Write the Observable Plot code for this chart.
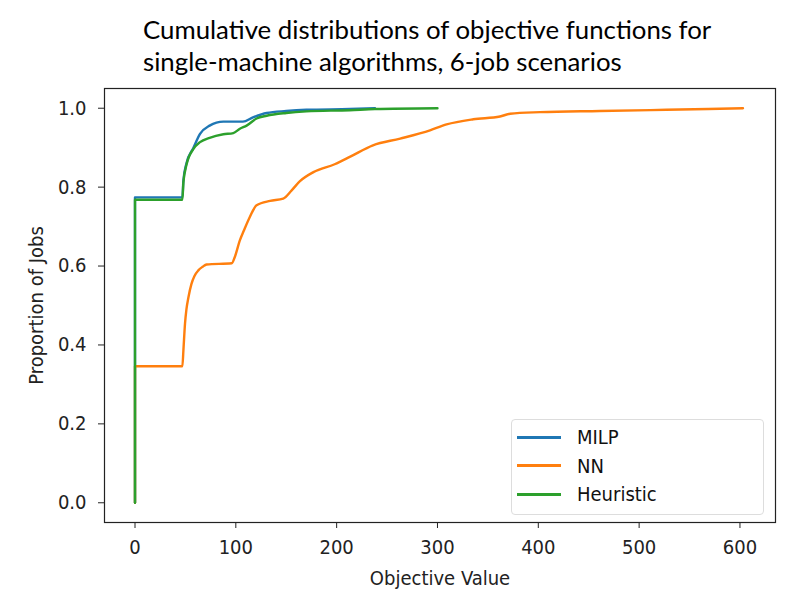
<!DOCTYPE html>
<html>
<head>
<meta charset="utf-8">
<script src="https://cdn.jsdelivr.net/npm/d3@7"></script>
<script src="https://cdn.jsdelivr.net/npm/@observablehq/plot@0.6"></script>
<style>
  html, body { margin: 0; padding: 0; background: #fff; }
  #wrap { position: relative; width: 788px; height: 599px; overflow: hidden; }
  #title { position: absolute; left: 143px; top: 13px; font-family: Lato, "Open Sans", sans-serif; font-size: 25.8px; line-height: 32px; color: #000; white-space: nowrap; }
  #legend { position: absolute; left: 511px; top: 419px; width: 253px; height: 96px; border: 1px solid #ddd; border-radius: 4px; background: #fff; font-family: "DejaVu Sans Condensed", "DejaVu Sans", sans-serif; font-stretch: condensed; font-size: 20px; color: #111; box-sizing: border-box; }
  .row { position: absolute; left: 5px; height: 22px; display: flex; align-items: center; }
  .sw { width: 44px; height: 0; border-top: 3px solid; margin-right: 16px; }
  svg { position: absolute; left: 0; top: 0; }
</style>
</head>
<body>
<div id="wrap">
  <div id="title">Cumulative distributions of objective functions for<br>single-machine algorithms, 6-job scenarios</div>
</div>
<script>
const seriesNames = ["MILP", "NN", "Heuristic"];
const seriesColors = ["#1f77b4", "#ff7f0e", "#2ca02c"];

const milpX = [0, 0, 47, 48, 51, 58, 64.5, 74, 87.6, 107, 117, 130.6, 150, 170, 213, 238];
const milpY = [0, 0.774, 0.774, 0.817, 0.86, 0.90, 0.935, 0.956, 0.966, 0.966, 0.977, 0.988, 0.993, 0.996, 0.998, 1.0];

const nnX = [0, 0, 47, 48, 49.6, 51, 53, 56, 59, 62.8, 67, 71, 96, 99, 104, 108, 114, 120.6, 134, 147, 155.4, 163.6, 177, 198, 214, 236, 263, 292.6, 309, 335.5, 362, 372, 401.7, 461, 527, 603];
const nnY = [0, 0.346, 0.346, 0.386, 0.454, 0.49, 0.521, 0.555, 0.575, 0.589, 0.598, 0.604, 0.607, 0.623, 0.665, 0.69, 0.725, 0.754, 0.765, 0.771, 0.792, 0.815, 0.838, 0.858, 0.878, 0.906, 0.923, 0.944, 0.959, 0.972, 0.979, 0.986, 0.990, 0.993, 0.996, 1.0];

const heurX = [0, 0, 47, 48, 51, 58, 64.5, 74, 87.6, 97.5, 104, 110.7, 120.6, 130.6, 150, 170, 213, 238, 300];
const heurY = [0, 0.768, 0.768, 0.812, 0.856, 0.897, 0.914, 0.925, 0.934, 0.937, 0.948, 0.956, 0.974, 0.981, 0.988, 0.992, 0.995, 0.998, 1.0];

const xTicks = [0, 100, 200, 300, 400, 500, 600];
const yTicks = [0, 0.2, 0.4, 0.6, 0.8, 1.0];

const allX = [milpX, nnX, heurX];
const allY = [milpY, nnY, heurY];
const data = [];
seriesNames.forEach((s, i) => allX[i].forEach((x, j) => data.push({series: s, x, y: allY[i][j]})));

const font = "'DejaVu Sans Condensed', 'DejaVu Sans', sans-serif";

const chart = Plot.plot({
  width: 788,
  height: 599,
  marginTop: 88,
  marginBottom: 77,
  marginLeft: 104,
  marginRight: 13,
  style: {fontFamily: font, fontSize: "20px", color: "#222", background: "transparent", fontStretch: "condensed"},
  x: {domain: [-30.25, 635.25]},
  y: {domain: [-0.05, 1.05]},
  color: {domain: seriesNames, range: seriesColors},
  marks: [
    Plot.axisX({ticks: xTicks, tickSize: 6, tickPadding: 11, tickFormat: d3.format("d"), label: "Objective Value", labelAnchor: "center", labelArrow: "none", labelOffset: 62, fontSize: 20}),
    Plot.axisY({ticks: yTicks, tickSize: 6, tickPadding: 12, tickFormat: d3.format(".1f"), label: "Proportion of Jobs", labelAnchor: "center", labelArrow: "none", labelOffset: 76, fontSize: 20}),
    Plot.line(data, {x: "x", y: "y", z: "series", stroke: "series", strokeWidth: 2.4, curve: "monotone-x"}),
    Plot.frame({stroke: "#222", strokeWidth: 1.2})
  ]
});
document.getElementById("wrap").appendChild(chart);

const legend = document.createElement("div");
legend.id = "legend";
seriesNames.forEach((s, i) => {
  const row = document.createElement("div");
  row.className = "row";
  row.style.top = (6 + i * 28.5) + "px";
  const sw = document.createElement("div");
  sw.className = "sw";
  sw.style.borderTopColor = seriesColors[i];
  const lb = document.createElement("span");
  lb.textContent = s;
  row.appendChild(sw);
  row.appendChild(lb);
  legend.appendChild(row);
});
document.getElementById("wrap").appendChild(legend);
</script>
</body>
</html>
